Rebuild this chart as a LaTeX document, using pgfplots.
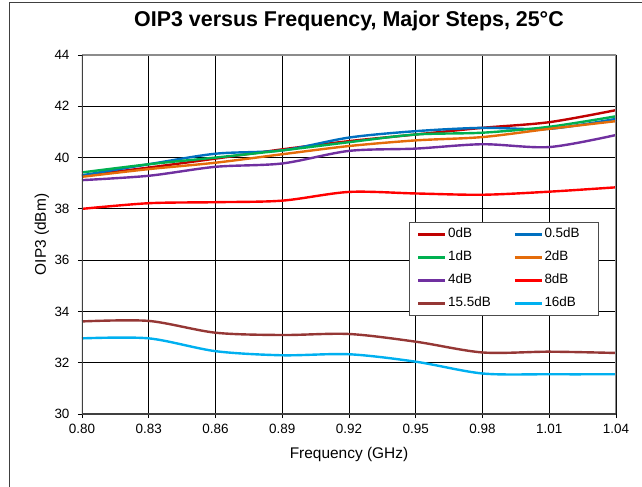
\documentclass[border=0pt]{standalone}
\usepackage{fontspec}
\setmainfont{Liberation Sans}
\usepackage{pgfplots}
\pgfplotsset{compat=1.18}
\definecolor{c0}{HTML}{C00000}
\definecolor{c05}{HTML}{0070C0}
\definecolor{c1}{HTML}{00B050}
\definecolor{c2}{HTML}{E46C0A}
\definecolor{c4}{HTML}{7030A0}
\definecolor{c8}{HTML}{FF0000}
\definecolor{c155}{HTML}{953735}
\definecolor{c16}{HTML}{00B0F0}
\begin{document}
\begin{tikzpicture}
\begin{axis}[
  scale only axis,
  width=534bp, height=359bp,
  xmin=0.8, xmax=1.04, ymin=30, ymax=44,
  xtick={0.80,0.83,0.86,0.89,0.92,0.95,0.98,1.01,1.04},
  ytick={30,32,34,36,38,40,42,44},
  xtick pos=bottom, ytick pos=left,
  x tick label style={yshift=-3bp, /pgf/number format/.cd, fixed, fixed zerofill, precision=2},
  /pgf/number format/assume math mode=true,
  ticklabel style={font=\fontsize{13.5}{15}\selectfont},
  yticklabel style={xshift=-5bp},
  grid=major,
  major grid style={black, line width=0.8bp},
  tick style={black, line width=0.8bp},
  major tick length=8bp, tick align=center,
  axis line style={draw=none},
  title={\bfseries OIP3 versus Frequency, Major Steps, 25°C},
  title style={at={(axis description cs:0.5,1.064)}, anchor=base, font=\fontsize{21.5}{24}\selectfont},
  xlabel={Frequency (GHz)},
  ylabel={OIP3 (dBm)},
  xlabel style={at={(axis description cs:0.5,-0.1253)}, anchor=base, font=\fontsize{15.5}{17}\selectfont},
  ylabel style={at={(axis description cs:-0.075,0.5)}, anchor=center, font=\fontsize{15.5}{17}\selectfont},
  every axis plot/.append style={line width=2.4bp, smooth},
  legend columns=2,
  legend cell align=left,
  legend image code/.code={\draw[#1, line width=2.4bp] (0bp,0bp) -- (27bp,0bp);},
  legend style={at={(0.612,0.535)}, anchor=north west, draw=black!70, line width=0.8bp,
    font=\fontsize{13.5}{15}\selectfont, inner xsep=8bp, inner ysep=4bp, row sep=7bp,
    nodes={inner sep=1.5bp, text height=10bp, text depth=3bp, text width=44bp},
    /tikz/every even column/.append style={column sep=20bp}},
]
\addplot[c0] coordinates {(0.80,39.29) (0.83,39.61) (0.86,39.96) (0.89,40.32) (0.92,40.64) (0.95,40.90) (0.98,41.16) (1.01,41.38) (1.04,41.85)};
\addlegendentry{0dB}
\addplot[c05] coordinates {(0.80,39.31) (0.83,39.74) (0.86,40.15) (0.89,40.28) (0.92,40.78) (0.95,41.03) (0.98,41.16) (1.01,41.12) (1.04,41.51)};
\addlegendentry{0.5dB}
\addplot[c1] coordinates {(0.80,39.42) (0.83,39.74) (0.86,40.00) (0.89,40.28) (0.92,40.60) (0.95,40.90) (0.98,40.97) (1.01,41.20) (1.04,41.61)};
\addlegendentry{1dB}
\addplot[c2] coordinates {(0.80,39.25) (0.83,39.55) (0.86,39.80) (0.89,40.13) (0.92,40.45) (0.95,40.67) (0.98,40.80) (1.01,41.12) (1.04,41.42)};
\addlegendentry{2dB}
\addplot[c4] coordinates {(0.80,39.12) (0.83,39.29) (0.86,39.64) (0.89,39.77) (0.92,40.26) (0.95,40.35) (0.98,40.52) (1.01,40.41) (1.04,40.88)};
\addlegendentry{4dB}
\addplot[c8] coordinates {(0.80,38.00) (0.83,38.22) (0.86,38.26) (0.89,38.32) (0.92,38.66) (0.95,38.60) (0.98,38.55) (1.01,38.67) (1.04,38.84)};
\addlegendentry{8dB}
\addplot[c155] coordinates {(0.80,33.61) (0.83,33.63) (0.86,33.17) (0.89,33.08) (0.92,33.12) (0.95,32.82) (0.98,32.40) (1.01,32.43) (1.04,32.38)};
\addlegendentry{15.5dB}
\addplot[c16] coordinates {(0.80,32.95) (0.83,32.95) (0.86,32.45) (0.89,32.29) (0.92,32.33) (0.95,32.04) (0.98,31.58) (1.01,31.55) (1.04,31.55)};
\addlegendentry{16dB}
\draw[black!45, line width=3bp] (rel axis cs:0,1) -- (rel axis cs:1,1) -- (rel axis cs:1,0);
\draw[black!75, line width=2bp] (rel axis cs:0,1) -- (rel axis cs:0,0) -- (rel axis cs:1,0);
\end{axis}
\draw[black!75, line width=1bp] ([xshift=-72bp,yshift=-90bp]current axis.south west) -- ([xshift=-72bp,yshift=52bp]current axis.north west) -- ([xshift=50bp,yshift=52bp]current axis.north east);
\pgfresetboundingbox
\path[use as bounding box] ([xshift=-82bp,yshift=-73bp]current axis.south west) rectangle ([xshift=26bp,yshift=55bp]current axis.north east);
\end{tikzpicture}
\end{document}
